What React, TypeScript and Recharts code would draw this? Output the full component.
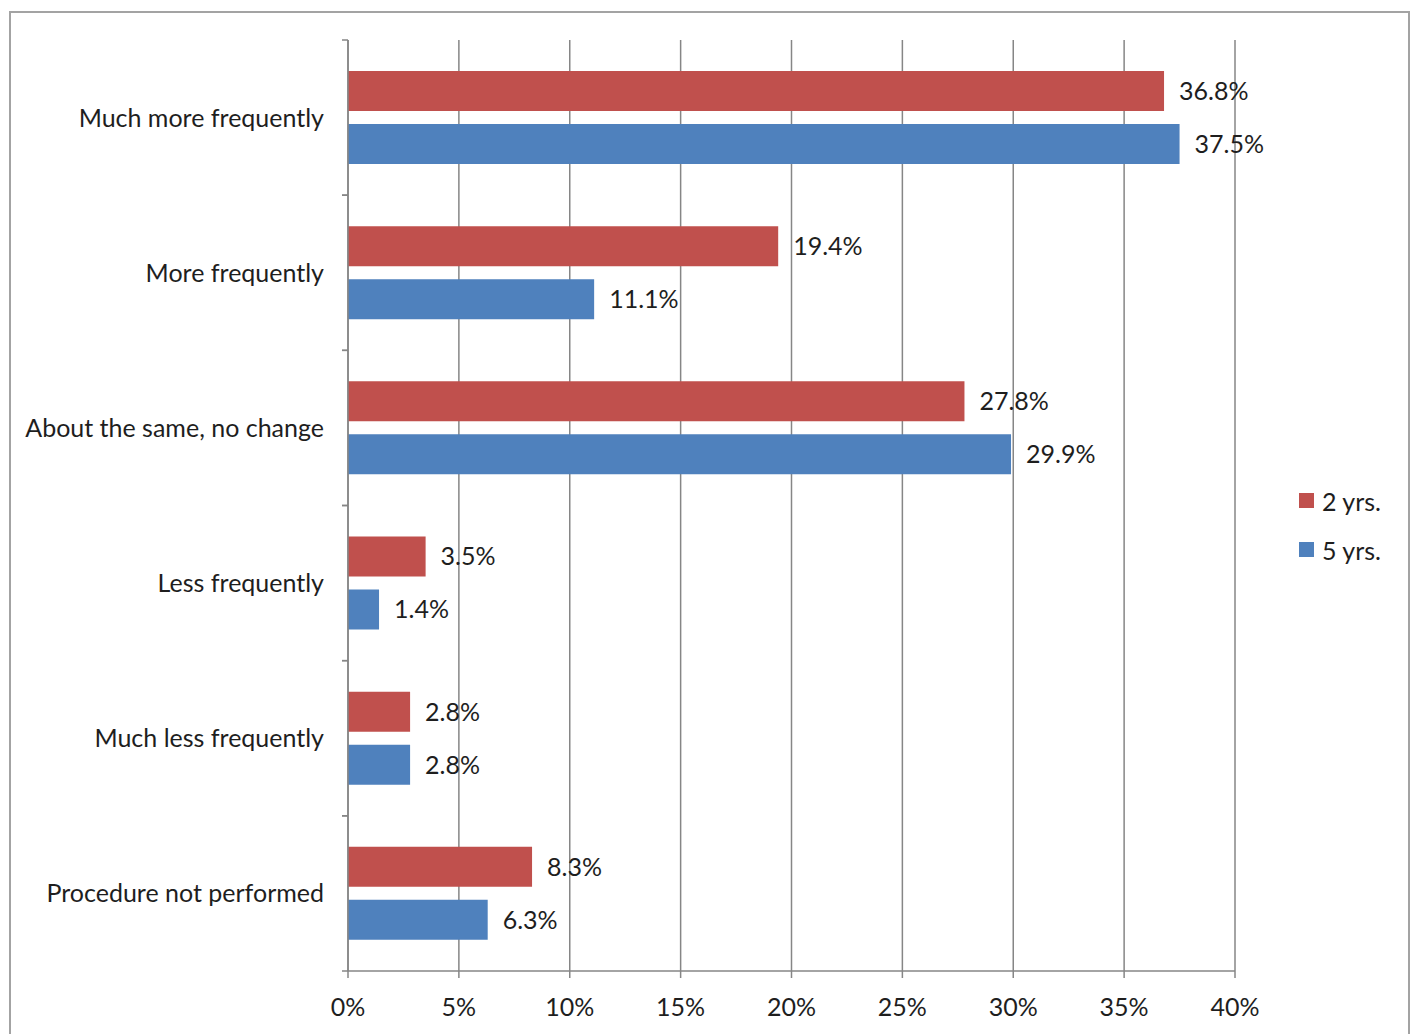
import React from "react";
import { BarChart, Bar, XAxis, YAxis, CartesianGrid, LabelList } from "recharts";

// Survey answers: change in frequency of the procedure
const categories = [
  "Much more frequently",
  "More frequently",
  "About the same, no change",
  "Less frequently",
  "Much less frequently",
  "Procedure not performed",
];
const twoYears = [36.8, 19.4, 27.8, 3.5, 2.8, 8.3];
const fiveYears = [37.5, 11.1, 29.9, 1.4, 2.8, 6.3];
const xTicks = [0, 5, 10, 15, 20, 25, 30, 35, 40];

const data = categories.map((name, i) => ({ name, two: twoYears[i], five: fiveYears[i] }));

const FONT = "Lato, 'Open Sans', sans-serif";
const RED = "#C0504D";
const BLUE = "#4F81BD";
const AXIS = "#868686";
const TEXT = "#1e1e1e";
const FS = 25;

const W = 1412;
const H = 1034;
const TOP = 40;
const BOTTOM = 971;
const BAND = (BOTTOM - TOP) / categories.length;

const CategoryTick = (props: any) => {
  const { x, y, payload } = props;
  const ax = x + 24;
  return (
    <g>
      <line x1={ax - 6} x2={ax} y1={y - BAND / 2} y2={y - BAND / 2} stroke={AXIS} strokeWidth={1.5} />
      <line x1={ax - 6} x2={ax} y1={y + BAND / 2} y2={y + BAND / 2} stroke={AXIS} strokeWidth={1.5} />
      <text x={x} y={y} dy={9} textAnchor="end" fill={TEXT} fontSize={FS} fontFamily={FONT}>
        {payload.value}
      </text>
    </g>
  );
};

const legendItems = [
  { label: "2 yrs.", color: RED },
  { label: "5 yrs.", color: BLUE },
];

const LegendBox = () => (
  <div style={{ position: "absolute", left: 1299, top: 476, fontFamily: FONT, fontSize: FS, color: TEXT }}>
    {legendItems.map((it) => (
      <div key={it.label} style={{ display: "flex", alignItems: "center", height: 49 }}>
        <span style={{ width: 15, height: 15, background: it.color, marginRight: 8, display: "inline-block" }} />
        {it.label}
      </div>
    ))}
  </div>
);

const pct = (v: any) => `${Number(v).toFixed(1)}%`;

const App = () => {
  return (
    <div style={{ position: "absolute", left: 0, top: 0, width: W, height: H, background: "#fff", overflow: "hidden" }}>
      <div
        style={{
          position: "absolute",
          left: 9,
          top: 11,
          width: 1397,
          height: 1040,
          border: "2px solid #a3a3a3",
        }}
      />
      <BarChart
        width={W}
        height={H}
        data={data}
        layout="vertical"
        margin={{ top: TOP, right: W - 1235, left: 0, bottom: 13 }}
        barSize={40}
        barGap={13}
      >
        <CartesianGrid horizontal={false} stroke={AXIS} strokeWidth={1.5} />
        <XAxis
          type="number"
          domain={[0, 40]}
          ticks={xTicks}
          height={50}
          tickFormatter={(v) => `${v}%`}
          tickSize={7}
          tickMargin={20}
          tickLine={{ stroke: AXIS, strokeWidth: 1.5 }}
          axisLine={{ stroke: AXIS, strokeWidth: 1.5 }}
          tick={{ fill: TEXT, fontSize: FS, fontFamily: FONT }}
        />
        <YAxis
          type="category"
          dataKey="name"
          width={348}
          tickLine={false}
          tickMargin={0}
          tickSize={0}
          axisLine={{ stroke: AXIS, strokeWidth: 1.5 }}
          tick={(p: any) => <CategoryTick {...p} x={p.x - 24} />}
          interval={0}
        />
        <Bar dataKey="two" name="2 yrs." fill={RED} isAnimationActive={false}>
          <LabelList dataKey="two" position="right" offset={15} formatter={pct} style={{ fill: TEXT, fontSize: FS, fontFamily: FONT }} />
        </Bar>
        <Bar dataKey="five" name="5 yrs." fill={BLUE} isAnimationActive={false}>
          <LabelList dataKey="five" position="right" offset={15} formatter={pct} style={{ fill: TEXT, fontSize: FS, fontFamily: FONT }} />
        </Bar>
      </BarChart>
      <LegendBox />
    </div>
  );
};

export default App;
